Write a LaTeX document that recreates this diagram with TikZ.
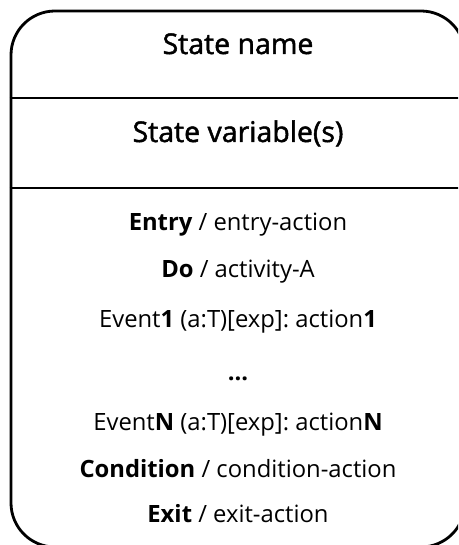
\documentclass[tikz,border=0pt]{standalone}
\usepackage{fontspec}
\setmainfont{Open Sans}
\newfontfamily\headfont[FakeBold=1.6]{Open Sans}
\tikzset{
  frame/.style={draw=black, line width=2.8pt, rounded corners=44pt},
  sep/.style={draw=black, line width=2.8pt},
  head/.style={font=\headfont\fontsize{28.5}{32}\selectfont, anchor=base, inner sep=0pt},
  entry/.style={font=\fontsize{23.8}{27}\selectfont, anchor=base, inner sep=0pt},
}
\begin{document}
\begin{tikzpicture}[x=1pt,y=-1pt]
  \frenchspacing
  \useasboundingbox (0,0) rectangle (458,545);
  \clip (0,0) rectangle (458,545);
  % state box, its lower and right edges run past the page
  \node[frame, minimum width=454pt, minimum height=536pt, inner sep=0pt] (state) at (238,279) {};
  \coordinate (s1) at (0,98);
  \coordinate (s2) at (0,188);
  \draw[sep] (state.west |- s1) -- (state.east |- s1);
  \draw[sep] (state.west |- s2) -- (state.east |- s2);
  % compartments
  \node[head] (name) at (238,54) {State name};
  \node[head] (vars) at (238,142) {State variable(s)};
  \node[entry] (entryact) at (238,230) {\textbf{Entry} / entry-action};
  \node[entry] (doact)    at (238,277) {\textbf{Do} / activity-A};
  \node[entry] (ev1)      at (238,327) {Event\textbf{1} (a:T)[exp]: action\textbf{1}};
  \node[entry] (dots)     at (238,380) {\textbf{...}};
  \node[entry] (evn)      at (238,430) {Event\textbf{N} (a:T)[exp]: action\textbf{N}};
  \node[entry] (cond)     at (238,477) {\textbf{Condition} / condition-action};
  \node[entry] (exitact)  at (238,522) {\textbf{Exit} / exit-action};
\end{tikzpicture}
\end{document}
